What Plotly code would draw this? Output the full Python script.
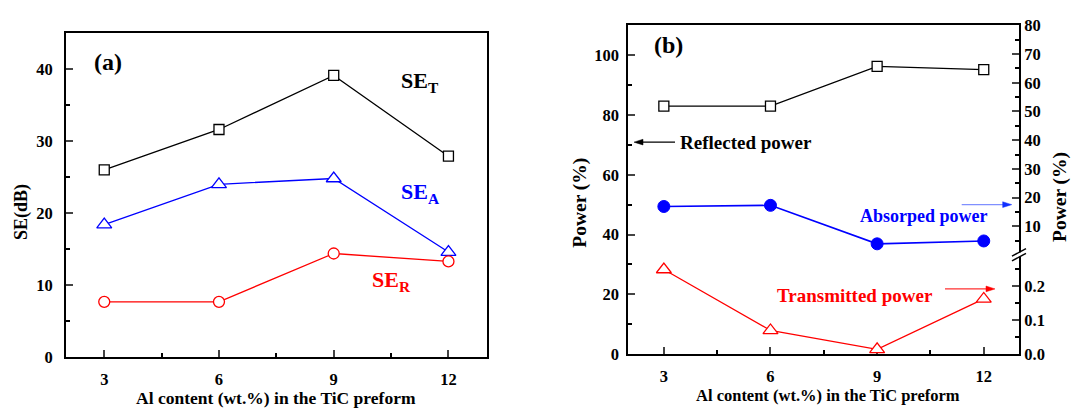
import plotly.graph_objects as go

W, H = 1072, 416

# ---- data ----
al = [3, 6, 9, 12]
se_t = [26.0, 31.6, 39.1, 27.9]
se_a = [18.4, 24.0, 24.8, 14.6]
se_r = [7.7, 7.7, 14.4, 13.3]

reflected = [83.0, 83.0, 96.3, 95.2]      # left axis (%)
absorbed = [16.9, 17.3, 3.9, 4.9]         # right axis, upper segment (%)
transmitted = [0.25, 0.07, 0.014, 0.163]  # right axis, lower segment (%)

xtitle = "Al content (wt.%) in the TiC preform"
FONT = "Liberation Serif, Times New Roman, serif"


def px(x):
    return x / W


def py(y):
    return 1 - y / H


fig = go.Figure()

# panel (a)
fig.add_trace(go.Scatter(x=al, y=se_t, xaxis="x", yaxis="y", mode="lines+markers",
                         line=dict(color="black", width=1.3), cliponaxis=False,
                         marker=dict(symbol="square", size=10, color="white",
                                     line=dict(color="black", width=1.3))))
fig.add_trace(go.Scatter(x=al, y=se_a, xaxis="x", yaxis="y", mode="lines+markers",
                         line=dict(color="#0000ff", width=1.3), cliponaxis=False,
                         marker=dict(symbol="triangle-up", size=13, color="white",
                                     line=dict(color="#0000ff", width=1.3))))
fig.add_trace(go.Scatter(x=al, y=se_r, xaxis="x", yaxis="y", mode="lines+markers",
                         line=dict(color="#ff0000", width=1.3), cliponaxis=False,
                         marker=dict(symbol="circle", size=11, color="white",
                                     line=dict(color="#ff0000", width=1.3))))

# panel (b)
fig.add_trace(go.Scatter(x=al, y=reflected, xaxis="x2", yaxis="y2", mode="lines+markers",
                         line=dict(color="black", width=1.3), cliponaxis=False,
                         marker=dict(symbol="square", size=10, color="white",
                                     line=dict(color="black", width=1.3))))
fig.add_trace(go.Scatter(x=al, y=absorbed, xaxis="x2", yaxis="y4", mode="lines+markers",
                         line=dict(color="#0000ff", width=1.6), cliponaxis=False,
                         marker=dict(symbol="circle", size=12, color="#0000ff",
                                     line=dict(color="#0000ff", width=1))))
fig.add_trace(go.Scatter(x=al, y=transmitted, xaxis="x2", yaxis="y3", mode="lines+markers",
                         line=dict(color="#ff0000", width=1.3), cliponaxis=False,
                         marker=dict(symbol="triangle-up", size=13, color="white",
                                     line=dict(color="#ff0000", width=1.3))))

tickfont = dict(family=FONT, size=16.5, color="black", weight="bold")

xcommon = dict(range=[2, 13], tickvals=al, ticks="inside", ticklen=7, tickwidth=1.5,
               showline=True, linecolor="black", linewidth=2, mirror=True,
               showgrid=False, zeroline=False, tickfont=tickfont,
               ticklabelstandoff=6,
               minor=dict(tickvals=[4.5, 7.5, 10.5], ticks="inside", ticklen=4,
                          tickwidth=1.5, tickcolor="black"))

fig.update_layout(
    width=W, height=H, margin=dict(l=0, r=0, t=0, b=0),
    paper_bgcolor="white", plot_bgcolor="rgba(0,0,0,0)", showlegend=False,
    xaxis=dict(domain=[px(66), px(486.7)], anchor="y", **xcommon),
    yaxis=dict(domain=[py(365), py(25)], anchor="x", range=[0, 45],
               tickvals=[0, 10, 20, 30, 40], ticks="inside", ticklen=7, tickwidth=1.5,
               showline=True, linecolor="black", linewidth=2, mirror=True,
               showgrid=False, zeroline=False, tickfont=tickfont, ticklabelstandoff=8,
               minor=dict(tickvals=[5, 15, 25, 35], ticks="inside", ticklen=4,
                          tickwidth=1.5, tickcolor="black")),
    xaxis2=dict(domain=[px(628.3), px(1019.3)], anchor="y2", **xcommon),
    yaxis2=dict(domain=[py(361.7), py(17.1)], anchor="x2", range=[0, 110],
                tickvals=[0, 20, 40, 60, 80, 100], ticks="inside", ticklen=7, tickwidth=1.5,
                showline=True, linecolor="black", linewidth=2, mirror=True,
                showgrid=False, zeroline=False, tickfont=tickfont, ticklabelstandoff=4,
                minor=dict(tickvals=[10, 30, 50, 70, 90], ticks="inside", ticklen=4,
                           tickwidth=1.5, tickcolor="black")),
    yaxis3=dict(domain=[py(361.7), py(361.7 - 0.28 * 355)], anchor="x2", side="right",
                range=[0, 0.28], tickvals=[0, 0.1, 0.2], ticktext=["0.0", "0.1", "0.2"],
                ticks="inside", ticklen=7, tickwidth=1.5, showline=False,
                showgrid=False, zeroline=False, tickfont=tickfont, ticklabelstandoff=4,
                minor=dict(tickvals=[0.05, 0.15, 0.25], ticks="inside", ticklen=4,
                           tickwidth=1.5, tickcolor="black")),
    yaxis4=dict(domain=[py(257.8), py(17.1)], anchor="x2", side="right",
                range=[0, 80], tickvals=[10, 20, 30, 40, 50, 60, 70, 80],
                ticks="inside", ticklen=7, tickwidth=1.5, showline=False,
                showgrid=False, zeroline=False, tickfont=tickfont, ticklabelstandoff=4,
                minor=dict(tickvals=[5, 15, 25, 35, 45, 55, 65, 75], ticks="inside",
                           ticklen=4, tickwidth=1.5, tickcolor="black")),
)


def ann(text, x, y, size, color="black", angle=0, xanchor="center", **kw):
    fig.add_annotation(text=text, x=px(x), y=py(y), xref="paper", yref="paper",
                       showarrow=False, textangle=angle, xanchor=xanchor, yanchor="middle",
                       font=dict(family=FONT, size=size, color=color, weight="bold"), **kw)


# axis titles
ann("SE(dB)", 21.7, 213, 18, angle=-90)
ann(xtitle, 276, 408, 17.5)
ann("Power (%)", 580, 203, 19.5, angle=-90)
ann("Power (%)", 1060, 197, 19.5, angle=-90)
ann(xtitle, 828, 405, 16.5)

# panel labels
ann("(a)", 108, 56, 24)
ann("(b)", 668, 38, 24)
ann("SE<sub>T</sub>", 420, 76, 22)
ann("SE<sub>A</sub>", 420, 193, 22, color="#0000ff")
ann("SE<sub>R</sub>", 391, 285, 22, color="#ff0000")

# series labels in (b)
ann("Reflected power", 678, 139.5, 19, xanchor="left")
ann("Absorped power", 924, 216.7, 18, color="#0000ff")
ann("Transmitted power", 855, 300, 19, color="#ff0000")


def arrow(x_tail, x_head, y, linecolor, headcolor):
    d = 1 if x_head > x_tail else -1
    fig.add_shape(type="line", xref="paper", yref="paper",
                  x0=px(x_tail), x1=px(x_head - d * 6), y0=py(y), y1=py(y),
                  line=dict(color=linecolor, width=1.2), layer="above")
    path = (f"M {px(x_head)},{py(y)} L {px(x_head - d * 9)},{py(y - 3)} "
            f"L {px(x_head - d * 9)},{py(y + 3)} Z")
    fig.add_shape(type="path", xref="paper", yref="paper", path=path,
                  fillcolor=headcolor, line=dict(color=headcolor, width=0.5), layer="above")


arrow(675, 634, 139.5, "black", "black")
arrow(961.7, 1011.7, 205, "#8090ff", "#1030ff")
arrow(945, 995, 293.3, "#ff3030", "#ff0000")

# axis break marks on the right axis
fig.add_shape(type="rect", xref="paper", yref="paper",
              x0=px(1016), x1=px(1023), y0=py(259.5), y1=py(255),
              fillcolor="white", line=dict(width=0), layer="above")
for dy in (0, 5):
    fig.add_shape(type="line", xref="paper", yref="paper",
                  x0=px(1012), y0=py(259 + dy), x1=px(1026), y1=py(251 + dy),
                  line=dict(color="black", width=1.5), layer="above")

fig.write_html("out.html")
